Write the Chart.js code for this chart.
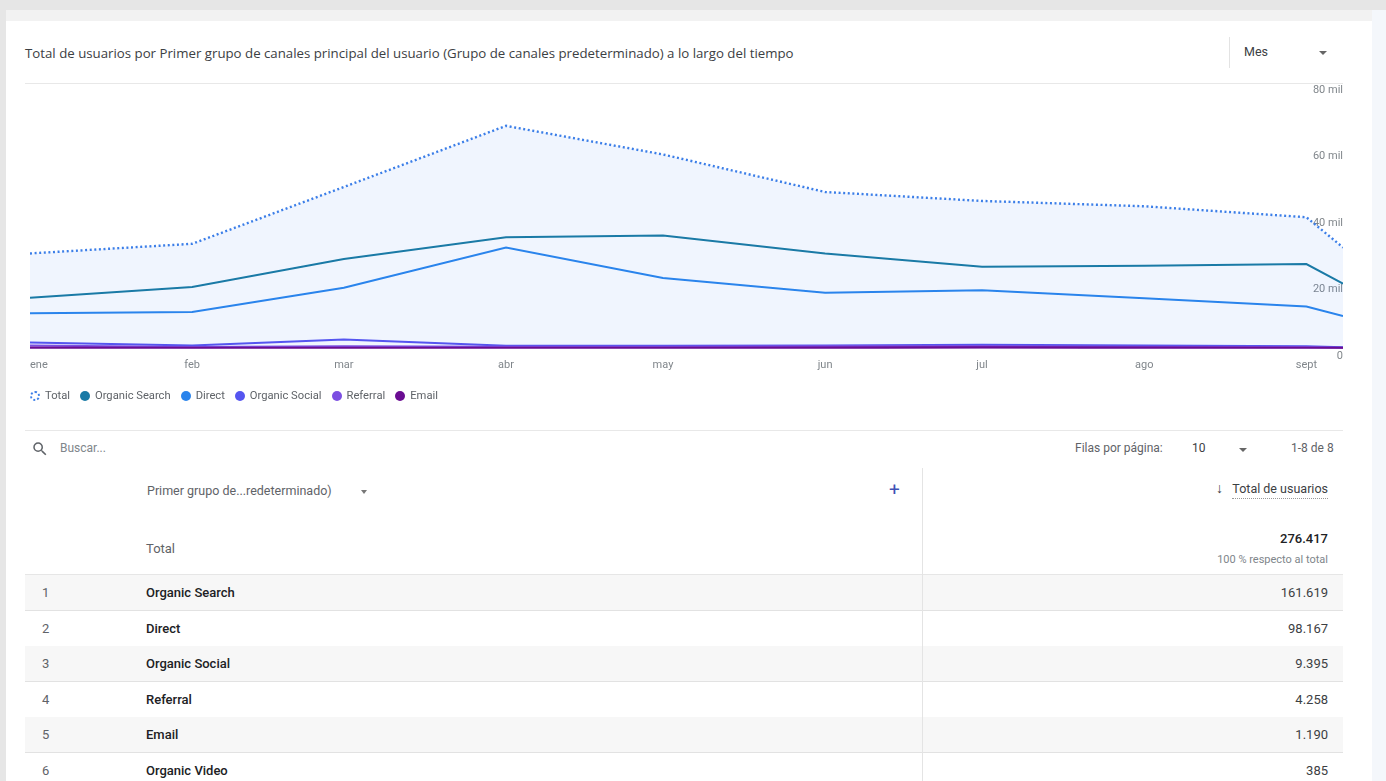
<!DOCTYPE html>
<html lang="es">
<head>
<meta charset="utf-8">
<script src="https://cdn.jsdelivr.net/npm/chart.js@4.4.1/dist/chart.umd.min.js"></script>
<style>
  html,body{margin:0;padding:0;width:1386px;height:781px;overflow:hidden;background:#e6e6e6;font-family:Roboto,"Noto Sans",Arial,sans-serif;}
  .abs{position:absolute;}
  #shell{left:6px;top:10px;width:1380px;height:771px;background:#f4f7fb;}
  #topband{left:6px;top:10px;width:1366px;height:11px;background:#f2f2f2;}
  #card{left:6px;top:21px;width:1366px;height:760px;background:#fff;}
  .title{left:25px;top:44px;font-family:"Open Sans",Roboto,sans-serif;font-size:13.25px;color:#3c4043;white-space:nowrap;}
  .hline{height:1px;background:#e8e8e8;}
  .vline{width:1px;background:#e3e3e3;}
  .tri{width:0;height:0;border-left:4px solid transparent;border-right:4px solid transparent;border-top:4px solid #666;}
  #chartBox{left:0;top:70px;width:1386px;height:321px;}
  #legend{left:30px;top:389px;display:flex;align-items:center;font-size:11.2px;color:#5f6368;white-space:nowrap;}
  #legend .it{display:flex;align-items:center;margin-right:10px;}
  #legend .dot{width:10px;height:10px;border-radius:50%;margin-right:5px;box-sizing:border-box;}
  .t12{font-size:12px;color:#5f6368;white-space:nowrap;}
  .row{left:25px;width:1318px;height:35px;border-bottom:1px solid #e2e2e2;}
  .row.shade{background:#f7f7f7;}
  .cell{position:absolute;top:0;line-height:35px;font-size:13px;white-space:nowrap;}
  .num{left:17px;color:#5f6368;}
  .name{left:121px;color:#202124;font-weight:500;}
  .val{right:15px;color:#3c4043;}
</style>
</head>
<body>
<div id="shell" class="abs"></div>
<div id="topband" class="abs"></div>
<div id="card" class="abs"></div>

<div class="abs title">Total de usuarios por Primer grupo de canales principal del usuario (Grupo de canales predeterminado) a lo largo del tiempo</div>
<div class="abs vline" style="left:1229px;top:37px;height:31px;"></div>
<div class="abs" style="left:1244px;top:44px;font-size:12.5px;color:#3c4043;">Mes</div>
<div class="abs tri" style="left:1319px;top:51px;"></div>
<div class="abs hline" style="left:25px;top:83px;width:1318px;"></div>

<div id="chartBox" class="abs"><canvas id="c"></canvas></div>

<div id="legend" class="abs"></div>

<div class="abs hline" style="left:25px;top:430px;width:1318px;"></div>

<svg class="abs" style="left:31px;top:440px;" width="18" height="18" viewBox="0 0 24 24"><path fill="#5f6368" d="M15.5 14h-.79l-.28-.27A6.470 6.470 0 0 0 16 9.5 6.5 6.5 0 1 0 9.5 16c1.61 0 3.090-.59 4.230-1.57l.27.28v.79l5 4.990L20.490 19l-4.990-5zm-6 0C7.010 14 5 11.990 5 9.5S7.010 5 9.5 5 14 7.010 14 9.5 11.990 14 9.5 14z"/></svg>
<div class="abs t12" style="left:60px;top:441px;color:#80868b;">Buscar...</div>
<div class="abs t12" style="left:1075px;top:441px;">Filas por página:</div>
<div class="abs t12" style="left:1192px;top:441px;color:#3c4043;">10</div>
<div class="abs tri" style="left:1239px;top:448px;"></div>
<div class="abs t12" style="left:1291px;top:441px;">1-8 de 8</div>

<!-- table header -->
<div class="abs" style="left:147px;top:483px;font-size:12.5px;color:#5f6368;white-space:nowrap;">Primer grupo de...redeterminado)</div>
<div class="abs tri" style="left:361px;top:490px;border-top-color:#777;border-left-width:3px;border-right-width:3px;"></div>
<div class="abs" style="left:889px;top:478px;font-size:19px;color:#3f51b5;">+</div>
<div class="abs" style="right:58px;top:480px;font-size:12.5px;color:#3c4043;white-space:nowrap;"><span style="font-size:14px;">↓</span> &nbsp;&nbsp;<span style="border-bottom:1px dotted #999;padding-bottom:2px;">Total de usuarios</span></div>

<div class="abs" style="left:146px;top:541px;font-size:13px;color:#5f6368;">Total</div>
<div class="abs" style="right:58px;top:531px;font-size:13px;color:#202124;font-weight:500;" id="grandTotal"></div>
<div class="abs" style="right:58px;top:553px;font-size:11px;color:#80868b;white-space:nowrap;">100 % respecto al total</div>

<div id="rows"></div>
<div class="abs vline" style="left:922px;top:468px;height:313px;background:#e4e4e4;z-index:5;"></div>

<script>
// ---------- data ----------
const pointDates   = ['2024-01-01','2024-02-01','2024-03-01','2024-04-01','2024-05-01','2024-06-01','2024-07-01','2024-08-01','2024-09-01','2024-09-08'];
const tickDates    = ['2024-01-01','2024-02-01','2024-03-01','2024-04-01','2024-05-01','2024-06-01','2024-07-01','2024-08-01','2024-09-01','2024-09-08'];
const monthLabels  = ['ene','feb','mar','abr','may','jun','jul','ago','sept',''];
const yTickValues  = [0, 20000, 40000, 60000, 80000];
const yTickLabels  = ['0', '20 mil', '40 mil', '60 mil', '80 mil'];

const totalUsers    = [28700, 31600, 48700, 67100, 58500, 47200, 44500, 42900, 39600, 30500];
const organicSearch = [15400, 18600, 27000, 33600, 34100, 28700, 24700, 25000, 25500, 19600];
const direct        = [10700, 11100, 18400, 30500, 21300, 16900, 17600, 15200, 12700,  9900];
const organicSocial = [ 1900,  1000,  2800,   900,   900,  1000,  1200,  1000,   800,   500];
const referral      = [ 1000,   500,   700,   600,   600,   700,   800,   600,   500,   300];
const email         = [  300,   200,   200,   200,   200,   300,   400,   300,   200,   200];

const seriesNames  = ['Total','Organic Search','Direct','Organic Social','Referral','Email'];

const tableChannels = ['Organic Search','Direct','Organic Social','Referral','Email','Organic Video'];
const tableUsers    = ['161.619','98.167','9.395','4.258','1.190','385'];
const tableTotal    = '276.417';

// ---------- helpers ----------
const dayMs = 86400000;
const t0 = Date.parse(pointDates[0]);
const toDay = d => Math.round((Date.parse(d) - t0) / dayMs);
const xs = pointDates.map(toDay);
const tickDays = tickDates.map(toDay);
const pts = arr => arr.map((v, i) => ({x: xs[i], y: v}));

const colors = {
  'Total': '#3b7ee8',
  'Organic Search': '#1a7aa6',
  'Direct': '#2a84ec',
  'Organic Social': '#5555f0',
  'Referral': '#7c4fe2',
  'Email': '#6a0c92'
};

// legend
const lg = document.getElementById('legend');
seriesNames.forEach(n => {
  const it = document.createElement('div'); it.className = 'it';
  const d = document.createElement('span'); d.className = 'dot';
  if (n === 'Total') { d.style.border = '2px dotted ' + colors[n]; }
  else { d.style.background = colors[n]; }
  const s = document.createElement('span'); s.textContent = n;
  it.appendChild(d); it.appendChild(s); lg.appendChild(it);
});

// table
document.getElementById('grandTotal').textContent = tableTotal;
const rowsEl = document.getElementById('rows');
const rowTop = 575, rowH = 35.6;
const b = document.createElement('div'); b.className = 'abs hline';
b.style.cssText = 'left:25px;top:574px;width:1318px;background:#e6e6e6;';
rowsEl.appendChild(b);
tableChannels.forEach((name, i) => {
  const r = document.createElement('div');
  r.className = 'abs row' + (i % 2 === 0 ? ' shade' : '');
  r.style.top = (rowTop + i * rowH) + 'px';
  r.innerHTML = '<span class="cell num">' + (i + 1) + '</span><span class="cell name">' + name +
                '</span><span class="cell val">' + tableUsers[i] + '</span>';
  rowsEl.appendChild(r);
});

// ---------- chart ----------
const lineDs = (name, data, width, order) => ({
  label: name, data: pts(data), borderColor: colors[name], borderWidth: width,
  pointRadius: 0, tension: 0, fill: false, order: order
});

new Chart(document.getElementById('c'), {
  type: 'line',
  data: {
    datasets: [
      lineDs('Email', email, 2.6, 1),
      lineDs('Referral', referral, 2.2, 2),
      lineDs('Organic Social', organicSocial, 2, 3),
      lineDs('Direct', direct, 2, 4),
      lineDs('Organic Search', organicSearch, 2, 5),
      {
        label: 'Total', data: pts(totalUsers), borderColor: colors['Total'], borderWidth: 2.4,
        borderDash: [2, 2.6], pointRadius: 0, tension: 0, order: 10,
        fill: 'origin', backgroundColor: 'rgba(66,133,244,0.08)'
      }
    ]
  },
  options: {
    responsive: true, maintainAspectRatio: false, animation: false,
    layout: { padding: { left: 30, right: 43, top: 13, bottom: 9 } },
    plugins: { legend: { display: false }, tooltip: { enabled: false } },
    scales: {
      x: {
        type: 'linear', min: xs[0], max: xs[xs.length - 1],
        grid: { display: false, drawTicks: false }, border: { display: false },
        afterBuildTicks: ax => { ax.ticks = tickDays.map(v => ({ value: v })); },
        ticks: {
          padding: 10, color: '#80868b', font: { family: 'Roboto', size: 11 },
          autoSkip: false, maxRotation: 0, align: 'inner',
          callback: v => { const i = tickDays.indexOf(v); return i >= 0 ? monthLabels[i] : ''; }
        }
      },
      y: {
        position: 'right', min: 0, max: 80000,
        grid: { display: false, drawTicks: false }, border: { display: false },
        afterBuildTicks: ax => { ax.ticks = yTickValues.map(v => ({ value: v })); },
        ticks: {
          mirror: true, padding: 0, labelOffset: 7, color: '#80868b',
          font: { family: 'Roboto', size: 11 },
          callback: v => { const i = yTickValues.indexOf(v); return i >= 0 ? yTickLabels[i] : ''; }
        }
      }
    }
  }
});
</script>
</body>
</html>
